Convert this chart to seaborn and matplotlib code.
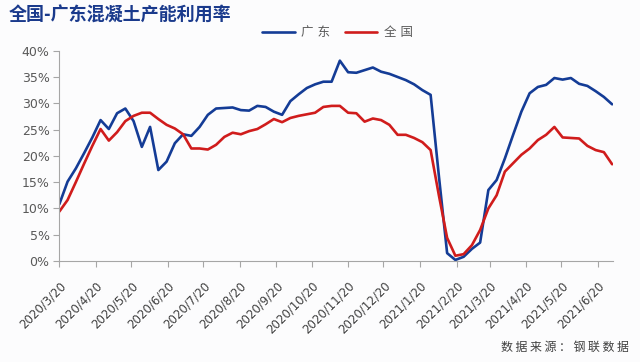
import matplotlib
matplotlib.use('Agg')
import matplotlib.pyplot as plt
import seaborn as sns
import pandas as pd

# weekly data, starting 2020/3/20
start_date = '2020-03-20'

guangdong = [10.8, 15.1, 17.6, 20.5, 23.5, 26.8, 25.1, 28.1, 29.0, 26.6,
             21.7, 25.5, 17.3, 18.9, 22.4, 24.1, 23.8, 25.5, 27.8, 29.0,
             29.1, 29.2, 28.7, 28.6, 29.5, 29.3, 28.4, 27.8, 30.4, 31.7,
             32.9, 33.6, 34.1, 34.1, 38.1, 35.9, 35.8, 36.3, 36.8, 36.0,
             35.6, 35.0, 34.4, 33.6, 32.5, 31.6, 16.2, 1.5, 0.2, 0.8,
             2.3, 3.5, 13.5, 15.4, 19.5, 24.0, 28.4, 31.9, 33.1, 33.5,
             34.8, 34.5, 34.8, 33.7, 33.3, 32.3, 31.2, 29.8]

national = [9.4, 11.6, 15.0, 18.5, 21.9, 25.1, 22.9, 24.5, 26.6, 27.6,
            28.2, 28.2, 27.0, 25.9, 25.2, 24.1, 21.4, 21.4, 21.2, 22.1,
            23.6, 24.4, 24.1, 24.7, 25.1, 26.0, 27.0, 26.4, 27.2, 27.6,
            27.9, 28.2, 29.3, 29.5, 29.5, 28.2, 28.1, 26.5, 27.1, 26.8,
            25.9, 24.0, 24.0, 23.4, 22.6, 21.1, 12.5, 4.4, 1.0, 1.3,
            3.0, 5.9, 10.0, 12.5, 17.0, 18.6, 20.2, 21.4, 23.0, 24.0,
            25.5, 23.5, 23.4, 23.3, 21.9, 21.1, 20.7, 18.4]

series_names = ['广东', '全国']
series_colors = {'广东': '#143c96', '全国': '#d01c1c'}

tick_dates = ['2020-03-20', '2020-04-20', '2020-05-20', '2020-06-20',
              '2020-07-20', '2020-08-20', '2020-09-20', '2020-10-20',
              '2020-11-20', '2020-12-20', '2021-01-20', '2021-02-20',
              '2021-03-20', '2021-04-20', '2021-05-20', '2021-06-20']
y_ticks = [0, 5, 10, 15, 20, 25, 30, 35, 40]

dates = pd.date_range(start_date, periods=len(guangdong), freq='7D')
df = pd.concat([
    pd.DataFrame({'date': dates, 'value': guangdong, 'name': '广东'}),
    pd.DataFrame({'date': dates, 'value': national, 'name': '全国'}),
])

sns.set_theme(style='white')
plt.rcParams['font.family'] = ['DejaVu Sans', 'Noto Sans CJK SC']

fig = plt.figure(figsize=(6.4, 3.62), dpi=100, facecolor='#fcfcfd')
ax = fig.add_axes([0.0927, 0.279, 0.8656, 0.581])
ax.set_facecolor('#fcfcfd')

sns.lineplot(data=df, x='date', y='value', hue='name', hue_order=series_names,
             palette=series_colors, linewidth=1.9, ax=ax, legend=False)

ax.set_xlim(pd.Timestamp('2020-03-20'), pd.Timestamp('2021-07-03'))
ax.set_ylim(0, 40)

ticks = pd.to_datetime(tick_dates)
ax.set_xticks(ticks)
ax.set_xticklabels([f'{d.year}/{d.month}/{d.day}' for d in ticks],
                   rotation=45, ha='right', rotation_mode='anchor',
                   fontsize=8.5, color='#404040')
ax.set_yticks(y_ticks)
ax.set_yticklabels([f'{v}%' for v in y_ticks], fontsize=9, color='#595959')

for side in ['top', 'right']:
    ax.spines[side].set_visible(False)
for side in ['left', 'bottom']:
    ax.spines[side].set_color('#a6a6a6')
    ax.spines[side].set_linewidth(0.8)
ax.tick_params(axis='both', which='major', direction='out', length=4,
               width=0.8, color='#a6a6a6', bottom=True, left=True)
ax.tick_params(axis='x', pad=9)
ax.tick_params(axis='y', pad=3)
ax.set_xlabel('')
ax.set_ylabel('')

handles = [plt.Line2D([], [], color=series_colors[n], linewidth=1.9) for n in series_names]
fig.legend(handles, ['广 东', '全 国'], loc='center', bbox_to_anchor=(0.527, 0.909),
           ncol=2, frameon=False, fontsize=9, handlelength=2.6,
           handletextpad=0.5, columnspacing=1.2, labelcolor='#595959')

fig.text(0.014, 0.958, '全国-广东混凝土产能利用率', fontsize=13, fontweight='bold',
         color='#1a3a8c', ha='left', va='center', family=['Noto Sans CJK SC', 'DejaVu Sans'])
fig.text(0.982, 0.04, '数 据 来 源 ： 钢 联 数 据', fontsize=8.6, color='#404040',
         ha='right', va='center', family=['Noto Sans CJK SC', 'DejaVu Sans'])

fig.savefig('out.png', dpi=100, facecolor=fig.get_facecolor())
